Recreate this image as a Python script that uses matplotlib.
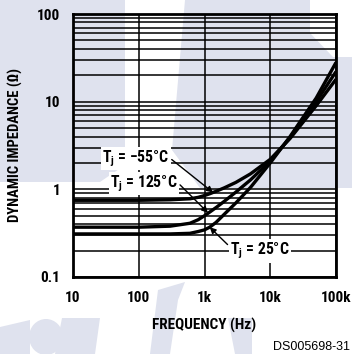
import matplotlib.pyplot as plt
from matplotlib.patches import Polygon, Ellipse

# data
freq = [10, 100, 300, 600, 800, 1000, 1200, 1500, 2000, 3000, 5000,
        10000, 20000, 50000, 100000]
z_m55 = [0.75, 0.75, 0.76, 0.78, 0.81, 0.85, 0.89, 0.95, 1.04, 1.20, 1.50,
         2.2, 3.8, 9.0, 18]
z_125 = [0.37, 0.37, 0.38, 0.41, 0.45, 0.50, 0.55, 0.62, 0.73, 0.93, 1.28,
         2.1, 3.9, 10.0, 22]
z_25 = [0.31, 0.31, 0.31, 0.315, 0.33, 0.345, 0.37, 0.42, 0.52, 0.70, 1.05,
        2.0, 4.0, 11.0, 28]

xticks = [10, 100, 1000, 10000, 100000]
xlabels = ['10', '100', '1k', '10k', '100k']
yticks = [0.1, 1, 10, 100]
ylabels = ['0.1', '1', '10', '100']

plt.rcParams['font.family'] = ['Roboto Condensed', 'DejaVu Sans']
plt.rcParams['font.weight'] = 'bold'
plt.rcParams['mathtext.fontset'] = 'custom'
plt.rcParams['mathtext.rm'] = 'Roboto Condensed:bold'

W, H = 352, 354
fig = plt.figure(figsize=(W / 100, H / 100), dpi=100)

# faint watermark behind the chart (pixel outlines of the scanned page)
wm = '#dfe2ee'
shapes = [
    [(0, 0), (125, 0), (125, 165), (100, 182), (0, 182)],
    [(185, 0), (310, 0), (310, 33), (333, 57), (352, 57), (352, 188),
     (200, 188), (172, 150)],
    [(0, 327), (30, 320), (30, 354), (0, 354)],
    [(62, 318), (100, 318), (95, 354), (55, 354)],
    [(158, 290), (185, 282), (178, 300), (170, 354), (150, 354)],
    [(228, 318), (252, 318), (252, 354), (235, 354)],
]
for pts in shapes:
    fig.patches.append(Polygon([(x / W, 1 - y / H) for x, y in pts], closed=True,
                               transform=fig.transFigure, facecolor=wm,
                               edgecolor='none', zorder=-5))
fig.patches.append(Ellipse((46 / W, 1 - 337 / H), 34 / W, 36 / H,
                           transform=fig.transFigure, facecolor=wm,
                           edgecolor='none', zorder=-5))

ax = fig.add_axes([73 / W, 1 - 277 / H, 263 / W, 263 / H])
ax.set_xscale('log')
ax.set_yscale('log')
ax.set_xlim(10, 100000)
ax.set_ylim(0.1, 100)
ax.set_facecolor('none')

ax.grid(True, which='major', axis='x', color='black', lw=1.1)
ax.grid(True, which='both', axis='y', color='black', lw=1.1)
ax.tick_params(which='both', length=0)
ax.tick_params(axis='x', pad=10)
ax.tick_params(axis='y', pad=9)
ax.set_xticks(xticks)
ax.set_xticklabels(xlabels, fontweight='bold', fontsize=11)
ax.set_yticks(yticks)
ax.set_yticklabels(ylabels, fontweight='bold', fontsize=11)
ax.minorticks_on()
ax.set_xticks([], minor=True)
for s in ax.spines.values():
    s.set_linewidth(2.0)

for z in (z_m55, z_125, z_25):
    ax.plot(freq, z, color='black', lw=2.4, solid_capstyle='butt', zorder=3)

tkw = dict(fontsize=11.3, fontweight='bold', ha='left', va='baseline',
           bbox=dict(facecolor='white', edgecolor='none', pad=1.0), zorder=5)


def arrow(rel):
    return dict(arrowstyle='-|>', color='black', lw=1.0, mutation_scale=9,
                shrinkA=1, shrinkB=0, relpos=rel)


ax.annotate(r'T$_\mathrm{j}$ = −55°C', xy=(1350, 0.92), xytext=(27.6, 2.04),
            arrowprops=arrow((1.0, 0.55)), **tkw)
ax.annotate(r'T$_\mathrm{j}$ = 125°C', xy=(1130, 0.54), xytext=(36.6, 1.06),
            arrowprops=arrow((1.0, 0.55)), **tkw)
ax.annotate(r'T$_\mathrm{j}$ = 25°C', xy=(1200, 0.37), xytext=(2440, 0.18),
            arrowprops=arrow((0.0, 0.7)), **tkw)

ax.set_xlabel('FREQUENCY (Hz)', fontweight='bold', fontsize=11, va='center')
ax.xaxis.set_label_coords(0.5, (277 - 325) / 263)
ax.set_ylabel('DYNAMIC IMPEDANCE (Ω)', fontweight='bold', fontsize=10.5,
              va='center')
ax.yaxis.set_label_coords((15 - 73) / 263, 0.5)

fig.text(350 / W, 1 - 347 / H, 'DS005698-31', ha='right', va='center',
         fontsize=9, fontweight='normal', family='Liberation Sans')

fig.savefig('out.png', dpi=100)
